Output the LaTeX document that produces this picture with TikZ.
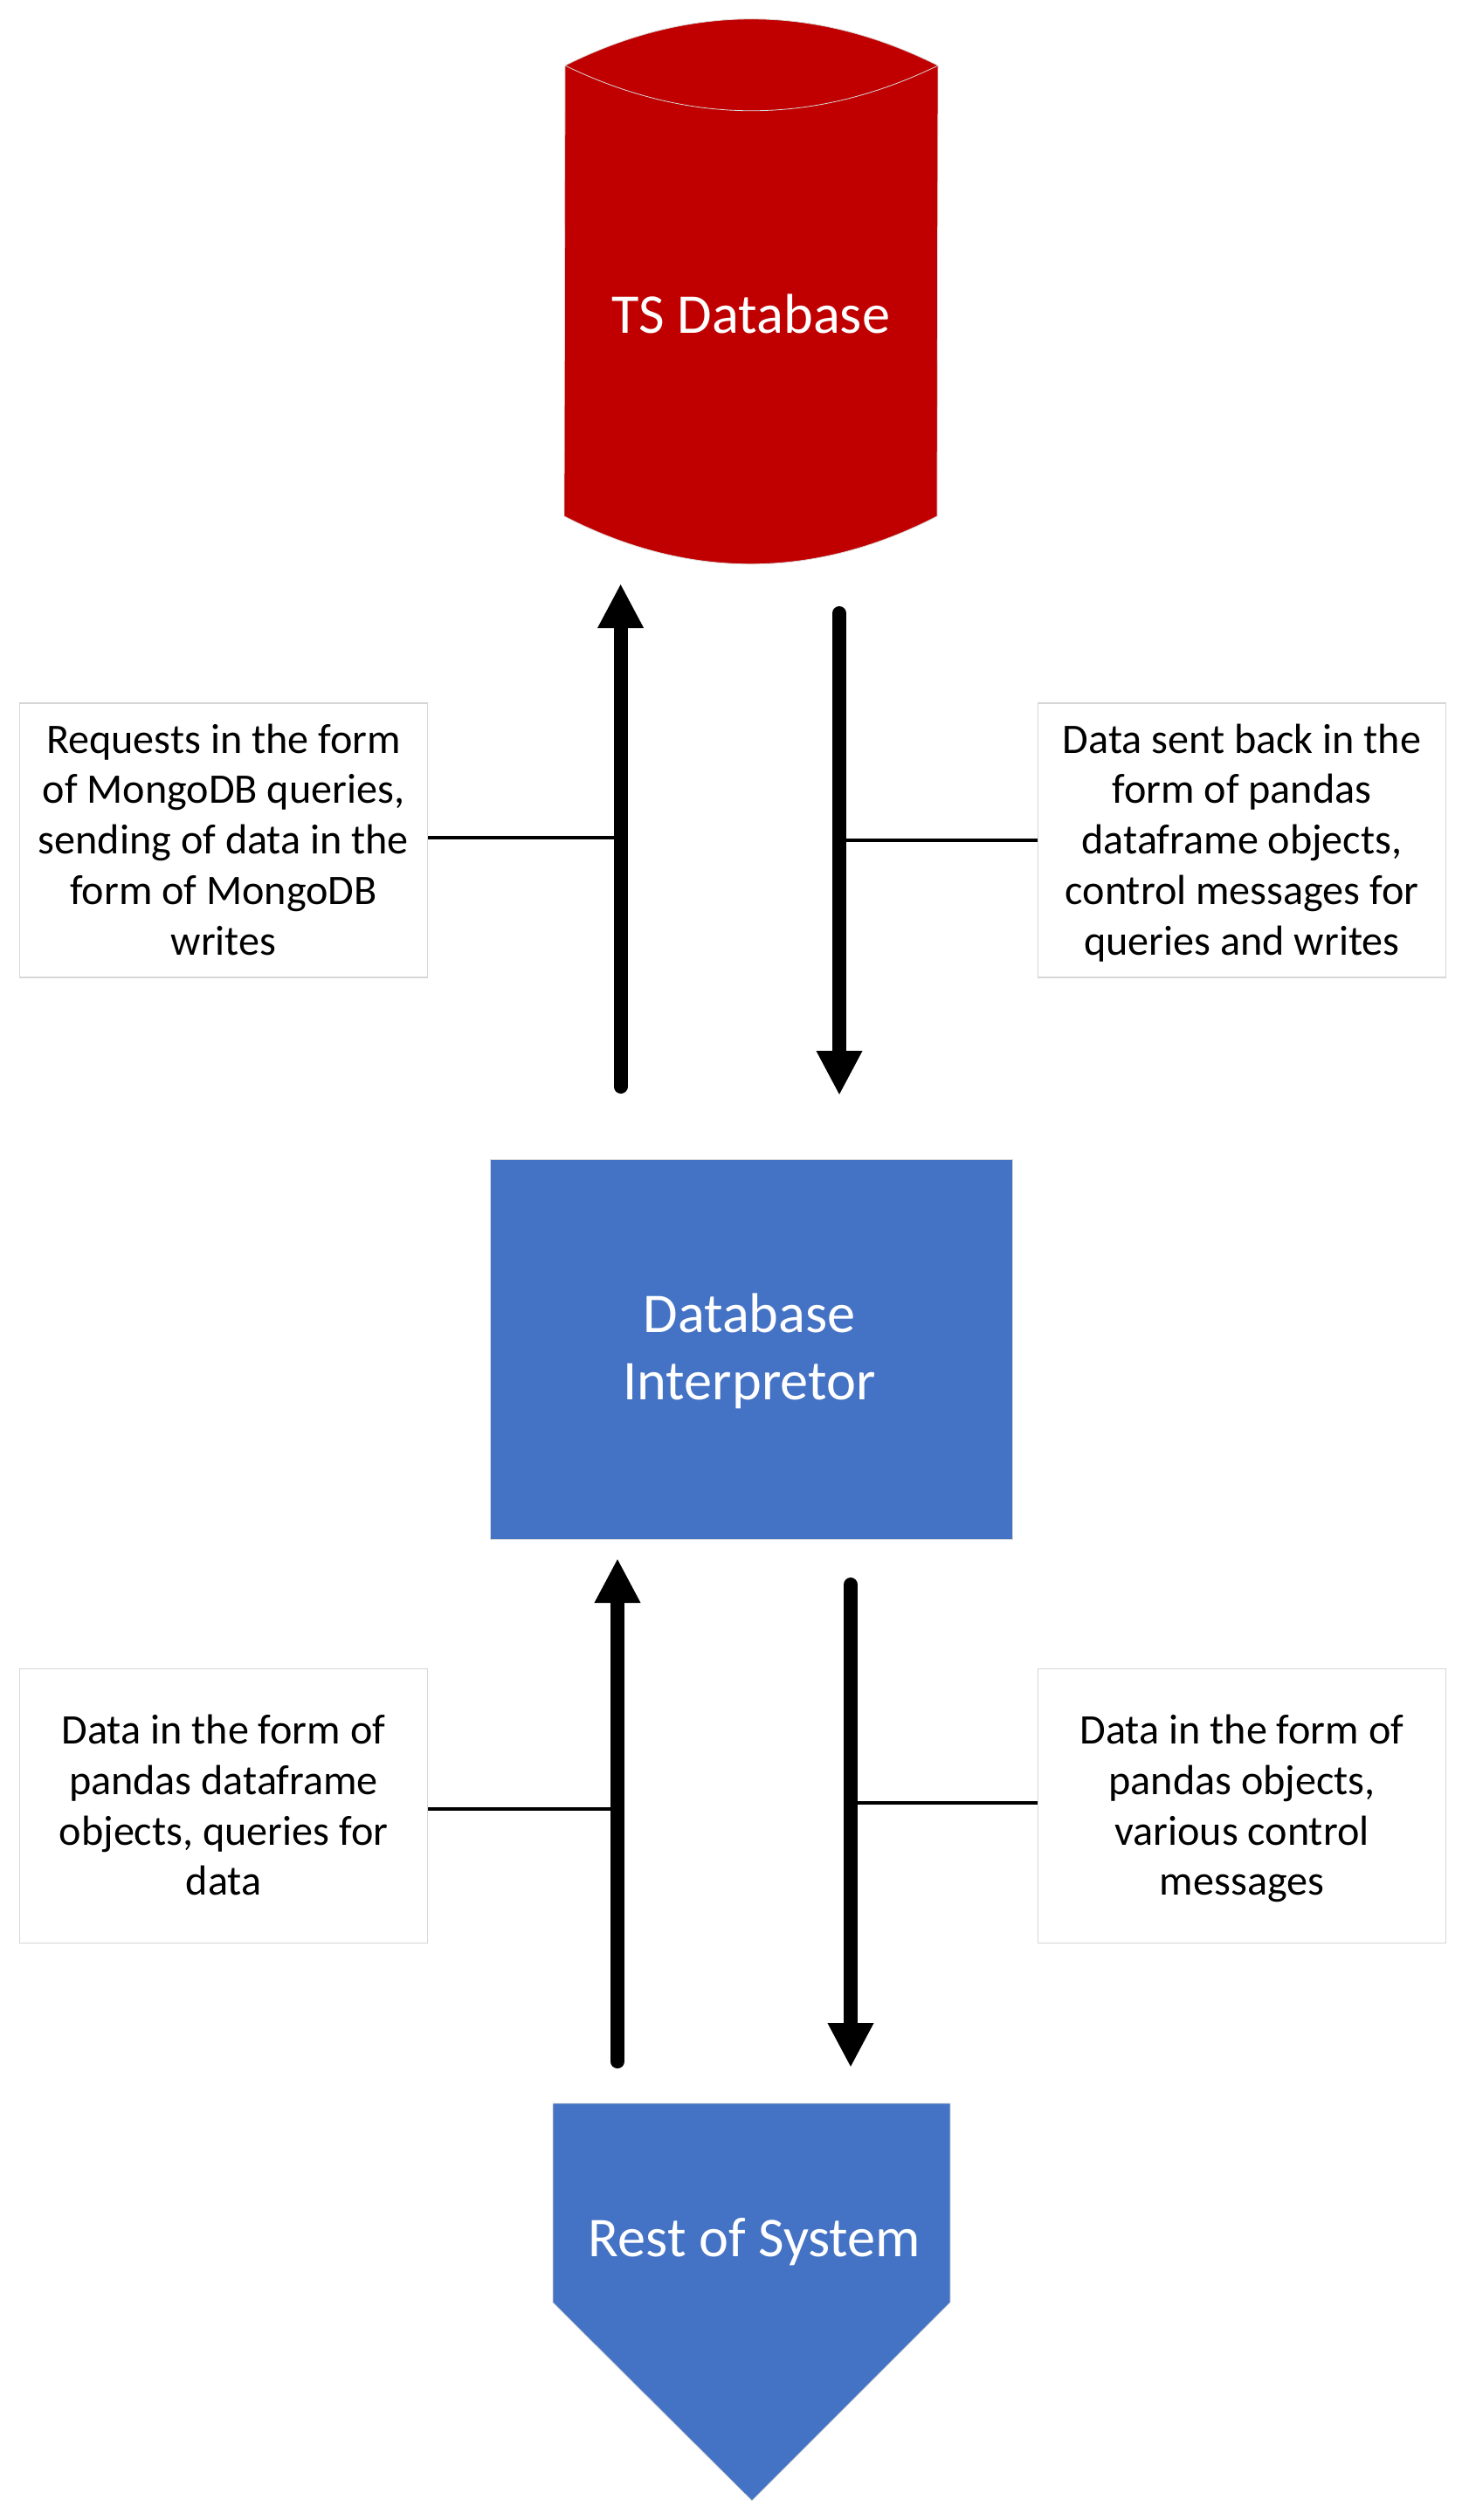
\documentclass[tikz,border=0pt]{standalone}
\usepackage{fontspec}
\setmainfont{Carlito}
\usetikzlibrary{arrows.meta}
\definecolor{dbred}{HTML}{C00000}
\definecolor{sysblue}{HTML}{4472C4}
\newcommand{\notelines}[1]{\rule{0pt}{12.6pt}#1\rule[-3.7pt]{0pt}{3.7pt}}
\tikzset{
	notebox/.style={draw=black!16, line width=0.12mm, fill=white, minimum width=4.67cm, minimum height=3.14cm, inner sep=0, align=center, font=\fontsize{13.7}{16.45}\selectfont},
	bigtext/.style={text=white, align=center, inner sep=0, font=\fontsize{18.3}{22}\selectfont},
	thinedge/.style={draw=black!15, line width=0.08mm},
	dataflow/.style={line width=1.6mm, line cap=round, -{Triangle[length=5.1mm, width=4.9mm]}},
	leaderline/.style={line width=0.35mm}
}

\begin{document}
\begin{tikzpicture}[y=-1cm]
			%%%%% START %%%%%
			\useasboundingbox (0, 0) rectangle (16.82, 28.85);
			
			\draw[fill=dbred, thinedge] (6.47, 0.75) .. controls (7.89, 0.04) and (9.32, 0.04) .. (10.74, 0.75) -- (10.73, 5.91) .. controls (9.31, 6.64) and (7.88, 6.64) .. (6.46, 5.91) -- cycle;
			\draw[thinedge] (6.47, 0.75) .. controls (7.89, 1.44) and (9.32, 1.44) .. (10.74, 0.75);
			\node[bigtext] (tsdb) at (8.60, 3.59) {TS Database};
			
			\node[fill=sysblue, thinedge, minimum width=5.98cm, minimum height=4.35cm] (interp) at (8.608, 15.445) {};
			\node[bigtext] (interptext) at (8.58, 15.47) {Database\\Interpretor};
			
			\draw[fill=sysblue, thinedge] (6.33, 24.08) -- (10.88, 24.08) -- (10.88, 26.36) -- (8.61, 28.63) -- (6.33, 26.36) -- cycle;
			\node[bigtext] (rest) at (8.64, 25.67) {Rest of System};
			
			\node[notebox] (reqbox) at (2.56, 9.62) {\notelines{Requests in the form\\of MongoDB queries,\\sending of data in the\\form of MongoDB\\writes}};
			\node[notebox] (backbox) at (14.22, 9.62) {\notelines{Data sent back in the\\form of pandas\\dataframe objects,\\control messages for\\queries and writes}};
			\node[notebox] (querybox) at (2.56, 20.675) {\notelines{Data in the form of\\pandas dataframe\\objects, queries for\\data}};
			\node[notebox] (ctrlbox) at (14.22, 20.675) {\notelines{Data in the form of\\pandas objects,\\various control\\messages}};
			
			\coordinate (reqtail) at (7.106, 12.44);
			\coordinate (reqtip) at (7.106, 6.68);
			\coordinate (backtail) at (9.61, 7.02);
			\coordinate (backtip) at (9.61, 12.54);
			\coordinate (querytail) at (7.07, 23.60);
			\coordinate (querytip) at (7.07, 17.84);
			\coordinate (ctrltail) at (9.74, 18.14);
			\coordinate (ctrltip) at (9.74, 23.67);
			
			\draw[dataflow] (reqtail) -- (reqtip);
			\draw[dataflow] (backtail) -- (backtip);
			\draw[dataflow] (querytail) -- (querytip);
			\draw[dataflow] (ctrltail) -- (ctrltip);
			
			\coordinate (reqjoin) at (7.106, 9.59);
			\coordinate (backjoin) at (9.61, 9.62);
			\coordinate (queryjoin) at (7.07, 20.71);
			\coordinate (ctrljoin) at (9.74, 20.64);
			
			\draw[leaderline] (reqbox.east |- reqjoin) -- (reqjoin);
			\draw[leaderline] (backbox.west |- backjoin) -- (backjoin);
			\draw[leaderline] (querybox.east |- queryjoin) -- (queryjoin);
			\draw[leaderline] (ctrlbox.west |- ctrljoin) -- (ctrljoin);
			%%%%% END %%%%%
\end{tikzpicture}
\end{document}
